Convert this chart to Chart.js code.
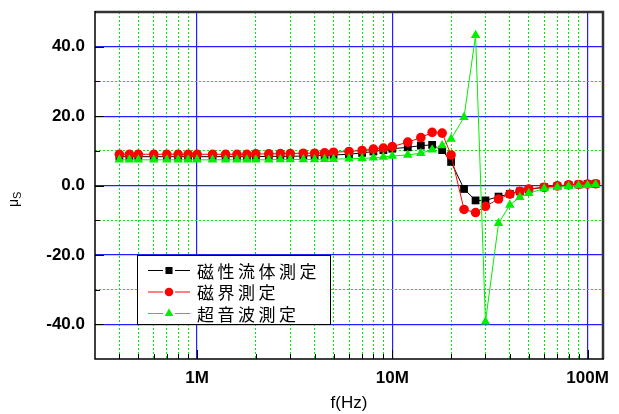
<!DOCTYPE html>
<html>
<head>
<meta charset="utf-8">
<script src="https://cdn.jsdelivr.net/npm/chart.js@4.4.0/dist/chart.umd.min.js"></script>
<style>
  html, body { margin: 0; padding: 0; background: #fff; }
  #wrap { width: 619px; height: 414px; }
</style>
</head>
<body>
<div id="wrap"><canvas id="grafica" width="619" height="414"></canvas></div>
<script>
// frecuencias en MHz
const freqMHz = [0.4, 0.45, 0.5, 0.6, 0.7, 0.8, 0.9,
  1, 1.2, 1.4, 1.6, 1.8, 2, 2.33, 2.67, 3, 3.5, 4, 4.5, 5, 6, 7, 8, 9,
  10, 12, 14, 16, 18, 20, 23.3, 26.7, 30, 35, 40, 45, 50, 60, 70, 80, 90,
  100, 110];

const ferrofluido = [8.3, 8.3, 8.3, 8.3, 8.3, 8.3, 8.3,
  8.3, 8.3, 8.3, 8.3, 8.3, 8.3, 8.4, 8.4, 8.4, 8.5, 8.6, 8.7, 8.8, 9.0, 9.4, 9.8, 10.2,
  10.6, 11.0, 11.5, 11.7, 10.2, 6.8, -1.0, -4.3, -4.3, -3.2, -2.4, -1.7, -1.1, -0.5, -0.2, 0.1, 0.3,
  0.4, 0.5];

const campoMag = [9.0, 9.0, 9.0, 9.0, 9.0, 9.0, 9.0,
  9.0, 9.0, 9.0, 9.0, 9.0, 9.1, 9.1, 9.2, 9.2, 9.3, 9.3, 9.4, 9.6, 9.8, 10.1, 10.5, 10.8,
  11.2, 12.5, 13.8, 15.3, 15.1, 8.8, -6.9, -7.8, -6.0, -3.9, -2.5, -1.7, -1.0, -0.5, -0.1, 0.2, 0.3,
  0.4, 0.5];

const ultrasonido = [7.4, 7.4, 7.4, 7.4, 7.4, 7.4, 7.4,
  7.4, 7.4, 7.4, 7.4, 7.4, 7.4, 7.4, 7.5, 7.5, 7.5, 7.5, 7.6, 7.6, 7.7, 7.8, 8.0, 8.2,
  8.5, 8.8, 9.3, 10.3, 11.5, 13.4, 19.7, 43.3, -39.3, -10.9, -5.6, -3.4, -2.2, -0.9, -0.5, -0.2, 0.0,
  0.1, 0.3];

const nombres = ["磁性流体測定", "磁界測定", "超音波測定"];

// ticks
const xMajor = [1, 10, 100];
const xMinor = [0.4, 0.5, 0.6, 0.7, 0.8, 0.9, 2, 3, 4, 5, 6, 7, 8, 9,
  20, 30, 40, 50, 60, 70, 80, 90];
const yMajor = [-40, -20, 0, 20, 40];
const yMinor = [-30, -10, 10, 30];

function puntos(vals) {
  return freqMHz.map((f, i) => ({ x: f, y: vals[i] }));
}

function sinPadding(s) {
  s.paddingTop = 0; s.paddingBottom = 0; s.paddingLeft = 0; s.paddingRight = 0;
}

// marco, ticks internos, titulo eje y y leyenda
const extras = {
  id: "extras",
  afterDraw(chart) {
    const ctx = chart.ctx;
    const a = chart.chartArea;
    const sx = chart.scales.x, sy = chart.scales.y;
    ctx.save();

    // ticks hacia adentro
    ctx.strokeStyle = "#000";
    ctx.lineWidth = 1;
    ctx.beginPath();
    xMinor.forEach(v => { const p = Math.round(sx.getPixelForValue(v)) + 0.5; ctx.moveTo(p, a.bottom); ctx.lineTo(p, a.bottom - 5); });
    xMajor.forEach(v => { const p = Math.round(sx.getPixelForValue(v)) + 0.5; ctx.moveTo(p, a.bottom); ctx.lineTo(p, a.bottom - 9); });
    yMinor.forEach(v => { const p = Math.round(sy.getPixelForValue(v)) + 0.5; ctx.moveTo(a.left, p); ctx.lineTo(a.left + 5, p); });
    yMajor.forEach(v => { const p = Math.round(sy.getPixelForValue(v)) + 0.5; ctx.moveTo(a.left, p); ctx.lineTo(a.left + 9, p); });
    ctx.stroke();

    // marco
    ctx.strokeStyle = "#333";
    ctx.lineWidth = 2.5;
    ctx.beginPath();
    ctx.moveTo(a.left, a.top); ctx.lineTo(a.right, a.top); ctx.lineTo(a.right, a.bottom);
    ctx.stroke();
    ctx.strokeStyle = "#000";
    ctx.lineWidth = 1.5;
    ctx.beginPath();
    ctx.moveTo(a.left, a.top - 1); ctx.lineTo(a.left, a.bottom); ctx.lineTo(a.right + 1, a.bottom);
    ctx.stroke();

    // titulo eje y: mu sub S
    ctx.fillStyle = "#000";
    ctx.translate(18, 207);
    ctx.rotate(-Math.PI / 2);
    ctx.textBaseline = "alphabetic";
    ctx.textAlign = "left";
    ctx.font = "14px 'Liberation Sans', Arial, sans-serif";
    ctx.fillText("μ", 0, 0);
    const w = ctx.measureText("μ").width;
    ctx.font = "11px 'Liberation Sans', Arial, sans-serif";
    ctx.fillText("S", w, 3);
    ctx.setTransform(1, 0, 0, 1, 0, 0);

    // leyenda
    ctx.fillStyle = "#fff";
    ctx.fillRect(138, 256, 192, 68);
    ctx.strokeStyle = "#000";
    ctx.lineWidth = 1;
    ctx.strokeRect(137.5, 255.5, 193, 69);
    const filas = [270.5, 292, 313.5];
    chart.data.datasets.forEach((ds, i) => {
      const y = filas[i];
      ctx.strokeStyle = ds.borderColor;
      ctx.lineWidth = 1;
      ctx.beginPath();
      ctx.moveTo(148, y); ctx.lineTo(163, y);
      ctx.moveTo(175, y); ctx.lineTo(190, y);
      ctx.stroke();
      ctx.fillStyle = ds.pointBackgroundColor;
      Chart.helpers.drawPoint(ctx, { pointStyle: ds.pointStyle, radius: ds.pointRadius - 0.5, rotation: 0, borderWidth: 0 }, 169, y);
      ctx.fillStyle = "#000";
      ctx.font = "17px 'Noto Sans CJK JP', sans-serif";
      ctx.textBaseline = "middle";
      ctx.textAlign = "left";
      [...nombres[i]].forEach((c, k) => ctx.fillText(c, 197 + k * 20.5, y + 1));
    });
    ctx.restore();
  }
};

const fuenteTicks = { family: "'Liberation Sans', Arial, sans-serif", size: 17, weight: "bold" };

const ctx = document.getElementById("grafica").getContext("2d");
new Chart(ctx, {
  type: "line",
  data: {
    datasets: [
      {
        label: nombres[0],
        data: puntos(ferrofluido),
        borderColor: "#000000",
        pointBackgroundColor: "#000000",
        pointStyle: "rect",
        pointRadius: 5.5,
        order: 3
      },
      {
        label: nombres[1],
        data: puntos(campoMag),
        borderColor: "#ff0000",
        pointBackgroundColor: "#ff0000",
        pointStyle: "circle",
        pointRadius: 4.8,
        order: 2
      },
      {
        label: nombres[2],
        data: puntos(ultrasonido),
        borderColor: "#00ee00",
        pointBackgroundColor: "#00ee00",
        pointStyle: "triangle",
        pointRadius: 5.5,
        order: 1
      }
    ].map(d => Object.assign(d, { borderWidth: 1, pointBorderWidth: 0, pointHoverRadius: d.pointRadius, tension: 0, fill: false }))
  },
  options: {
    responsive: false,
    animation: false,
    layout: { padding: { top: 12, right: 16, left: 0, bottom: 0 } },
    plugins: { legend: { display: false }, tooltip: { enabled: false } },
    scales: {
      x: {
        type: "logarithmic",
        min: 0.3,
        max: 120,
        weight: 1,
        afterBuildTicks: s => { s.ticks = xMajor.map(v => ({ value: v, major: true })); },
        afterFit: s => { s.height = 55; sinPadding(s); },
        ticks: {
          autoSkip: false,
          maxRotation: 0,
          padding: 9,
          color: "#000",
          font: fuenteTicks,
          callback: v => v + "M"
        },
        grid: { color: "#2020ff", lineWidth: 1.2, drawTicks: false },
        border: { display: false },
        title: {
          display: true,
          text: "f(Hz)",
          color: "#000",
          font: { family: "'Liberation Sans', Arial, sans-serif", size: 17 },
          padding: { top: 0, bottom: 0 }
        }
      },
      x2: {
        type: "logarithmic",
        position: "bottom",
        min: 0.3,
        max: 120,
        weight: 0,
        afterBuildTicks: s => { s.ticks = xMinor.map(v => ({ value: v })); },
        afterFit: s => { s.height = 0; sinPadding(s); },
        ticks: { display: false },
        grid: { color: "#00ee00", lineWidth: 1, drawTicks: false },
        border: { display: false, dash: [2, 2] }
      },
      y: {
        type: "linear",
        min: -50,
        max: 50,
        weight: 1,
        afterBuildTicks: s => { s.ticks = yMajor.map(v => ({ value: v })); },
        afterFit: s => { s.width = 95; sinPadding(s); },
        ticks: {
          padding: 10,
          color: "#000",
          font: fuenteTicks,
          callback: v => Number(v).toFixed(1)
        },
        grid: { color: "#2020ff", lineWidth: 1.2, drawTicks: false },
        border: { display: false }
      },
      y2: {
        type: "linear",
        position: "left",
        min: -50,
        max: 50,
        weight: 0,
        afterBuildTicks: s => { s.ticks = yMinor.map(v => ({ value: v })); },
        afterFit: s => { s.width = 0; sinPadding(s); },
        ticks: { display: false },
        grid: { color: "#00ee00", lineWidth: 1, drawTicks: false },
        border: { display: false, dash: [2, 2] }
      }
    }
  },
  plugins: [extras]
});
</script>
</body>
</html>
